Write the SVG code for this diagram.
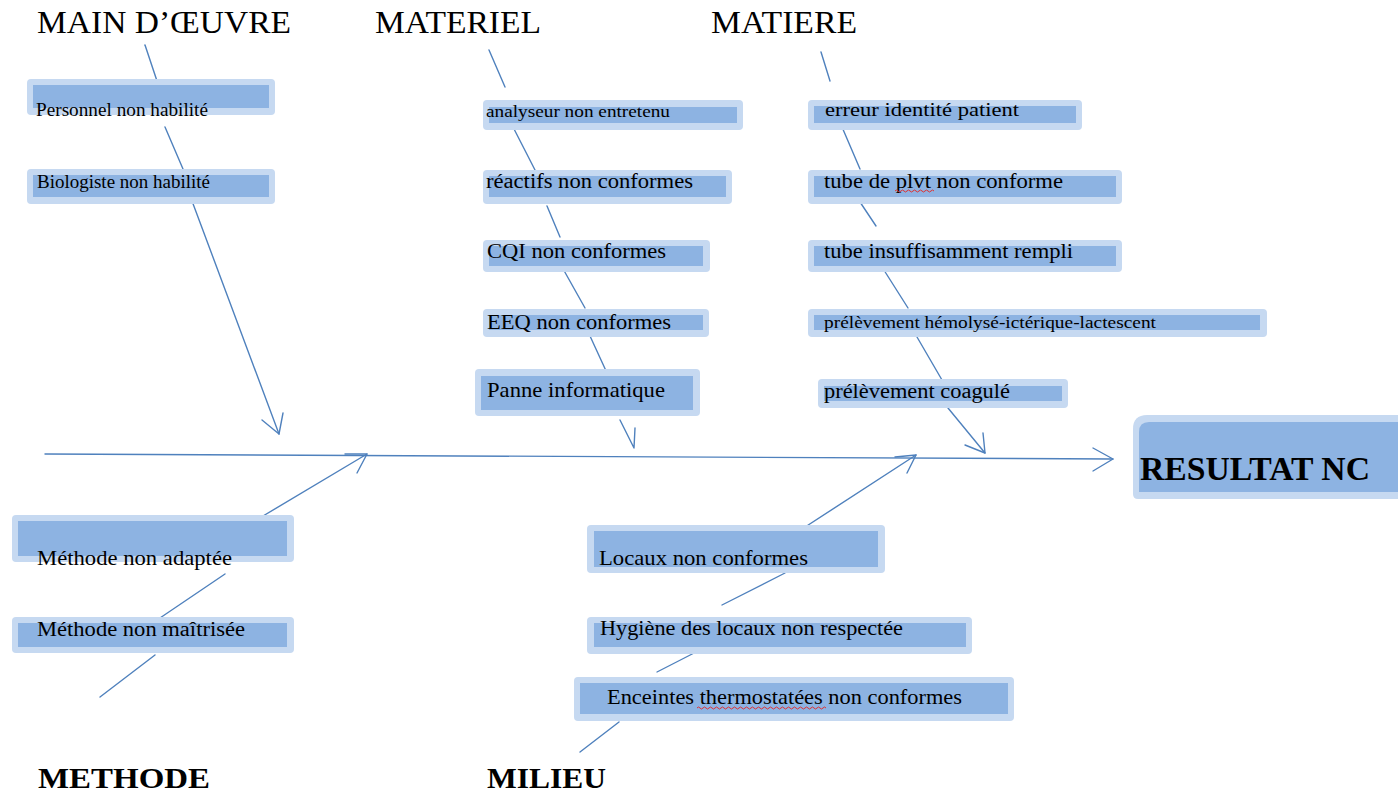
<svg xmlns="http://www.w3.org/2000/svg" width="1398" height="793" viewBox="0 0 1398 793">
<style>
.o{fill:#c6d9f1}
.i{fill:#8db3e2}
.t{font-family:"Liberation Serif","Times New Roman",serif;fill:#000}
.h{font-family:"Liberation Serif","Times New Roman",serif;font-size:31px;fill:#000}
.hb{font-family:"Liberation Serif","Times New Roman",serif;font-size:30px;font-weight:bold;fill:#000}
.ln{stroke:#4f81bd;stroke-width:1.4;fill:none;stroke-linecap:round;stroke-linejoin:round}
.sq{stroke:#e03030;stroke-width:1;fill:none}
</style>
<rect width="1398" height="793" fill="#ffffff"/>
<g id="connectors">
<path class="ln" d="M145,45 L157,81"/>
<path class="ln" d="M165,127 L183,169"/>
<path class="ln" d="M192,201 L279,434"/>
<polyline class="ln" points="262,420 279,434 283,413"/>
<path class="ln" d="M489,50 L505,87"/>
<path class="ln" d="M513,127 L535,170"/>
<path class="ln" d="M547,206 L560,237"/>
<path class="ln" d="M562,267 L585,308"/>
<path class="ln" d="M590,336 L607,373"/>
<polyline class="ln" points="620,420 634,448 635,428"/>
<path class="ln" d="M821,52 L830,81"/>
<path class="ln" d="M842,127 L860,169"/>
<path class="ln" d="M860,202 L876,226"/>
<path class="ln" d="M882,267 L908,308"/>
<path class="ln" d="M917,337 L942,380"/>
<path class="ln" d="M948,408 L985,453"/>
<polyline class="ln" points="965,445 985,453 983,433"/>
<path class="ln" d="M45,454 L1113,459"/>
<polyline class="ln" points="1093,448 1113,459 1093,471"/>
<path class="ln" d="M100,697 L155,655"/>
<path class="ln" d="M157,620 L225,574"/>
<path class="ln" d="M258,519 L367,454"/>
<polyline class="ln" points="345,454 367,454 357,473"/>
<path class="ln" d="M580,752 L619,722"/>
<path class="ln" d="M657,672 L698,651"/>
<path class="ln" d="M722,605 L785,573"/>
<path class="ln" d="M799,531 L916,455"/>
<polyline class="ln" points="895,457 916,455 907,473"/>
</g>
<g id="headers">
<text class="h" x="37" y="33" textLength="254" lengthAdjust="spacingAndGlyphs">MAIN D’ŒUVRE</text>
<text class="h" x="375" y="33" textLength="166" lengthAdjust="spacingAndGlyphs">MATERIEL</text>
<text class="h" x="711" y="33" textLength="146" lengthAdjust="spacingAndGlyphs">MATIERE</text>
<text class="hb" x="38" y="788" textLength="172" lengthAdjust="spacingAndGlyphs">METHODE</text>
<text class="hb" x="487" y="788" textLength="119" lengthAdjust="spacingAndGlyphs">MILIEU</text>
</g>
<g id="n-personnel"><rect class="o" x="27" y="79" width="248" height="36" rx="4"/><rect class="i" x="33" y="85" width="236" height="23"/><text class="t" x="36" y="116" font-size="18" textLength="172" lengthAdjust="spacingAndGlyphs">Personnel non habilité</text></g>
<g id="n-biologiste"><rect class="o" x="27" y="169" width="248" height="35" rx="4"/><rect class="i" x="33" y="175" width="236" height="22"/><text class="t" x="37" y="188" font-size="18" textLength="173" lengthAdjust="spacingAndGlyphs">Biologiste non habilité</text></g>
<g id="n-analyseur"><rect class="o" x="483" y="100" width="260" height="30" rx="4"/><rect class="i" x="489" y="107" width="248" height="16"/><text class="t" x="486" y="117" font-size="17" textLength="184" lengthAdjust="spacingAndGlyphs">analyseur non entretenu</text></g>
<g id="n-reactifs"><rect class="o" x="483" y="170" width="249" height="34" rx="4"/><rect class="i" x="489" y="176" width="237" height="21"/><text class="t" x="486" y="188" font-size="20" textLength="207" lengthAdjust="spacingAndGlyphs">réactifs non conformes</text></g>
<g id="n-cqi"><rect class="o" x="483" y="240" width="227" height="32" rx="4"/><rect class="i" x="489" y="246" width="214" height="20"/><text class="t" x="487" y="258" font-size="20" textLength="179" lengthAdjust="spacingAndGlyphs">CQI non conformes</text></g>
<g id="n-eeq"><rect class="o" x="483" y="309" width="226" height="28" rx="4"/><rect class="i" x="489" y="315" width="214" height="15"/><text class="t" x="487" y="329" font-size="20" textLength="184" lengthAdjust="spacingAndGlyphs">EEQ non conformes</text></g>
<g id="n-panne"><rect class="o" x="475" y="369" width="225" height="47" rx="4"/><rect class="i" x="481" y="376" width="212" height="34"/><text class="t" x="487" y="397" font-size="21" textLength="178" lengthAdjust="spacingAndGlyphs">Panne informatique</text></g>
<g id="n-erreur"><rect class="o" x="808" y="100" width="274" height="30" rx="4"/><rect class="i" x="814" y="106" width="262" height="17"/><text class="t" x="825" y="116" font-size="19" textLength="194" lengthAdjust="spacingAndGlyphs">erreur identité patient</text></g>
<g id="n-tube-plvt"><rect class="o" x="808" y="170" width="314" height="34" rx="4"/><rect class="i" x="814" y="176" width="302" height="21"/><text class="t" x="824" y="188" font-size="20" textLength="239" lengthAdjust="spacingAndGlyphs">tube de plvt non conforme</text><path class="sq" d="M895,191 q1.5,-2 3,0 t3,0 t3,0 t3,0 t3,0 t3,0 t3,0 t3,0 t3,0 t3,0 t3,0 t3,0 t3,0"/></g>
<g id="n-tube-insuff"><rect class="o" x="808" y="240" width="314" height="32" rx="4"/><rect class="i" x="814" y="246" width="302" height="20"/><text class="t" x="824" y="258" font-size="20" textLength="249" lengthAdjust="spacingAndGlyphs">tube insuffisamment rempli</text></g>
<g id="n-hemolyse"><rect class="o" x="808" y="309" width="459" height="28" rx="4"/><rect class="i" x="814" y="315" width="446" height="15"/><text class="t" x="824" y="328" font-size="17" textLength="332" lengthAdjust="spacingAndGlyphs">prélèvement hémolysé-ictérique-lactescent</text></g>
<g id="n-coagule"><rect class="o" x="818" y="379" width="250" height="29" rx="4"/><rect class="i" x="824" y="386" width="238" height="15"/><text class="t" x="824" y="398" font-size="20" textLength="186" lengthAdjust="spacingAndGlyphs">prélèvement coagulé</text></g>
<g id="n-resultat"><path class="o" d="M1147,415 H1398 V499 H1138 Q1133,499 1133,494 V429 Q1133,415 1147,415 Z"/><path class="i" d="M1149,422 H1398 V492 H1139 V432 Q1139,422 1149,422 Z"/><text class="t" x="1140" y="480" font-size="33" font-weight="bold" textLength="230" lengthAdjust="spacingAndGlyphs">RESULTAT NC</text></g>
<g id="n-methode-adaptee"><rect class="o" x="12" y="515" width="282" height="47" rx="4"/><rect class="i" x="18" y="521" width="269" height="35"/><text class="t" x="37" y="565" font-size="21" textLength="195" lengthAdjust="spacingAndGlyphs">Méthode non adaptée</text></g>
<g id="n-methode-maitrisee"><rect class="o" x="12" y="617" width="282" height="36" rx="4"/><rect class="i" x="18" y="623" width="269" height="24"/><text class="t" x="37" y="636" font-size="20" textLength="208" lengthAdjust="spacingAndGlyphs">Méthode non maîtrisée</text></g>
<g id="n-locaux"><rect class="o" x="587" y="525" width="298" height="48" rx="4"/><rect class="i" x="594" y="531" width="284" height="36"/><text class="t" x="599" y="565" font-size="21" textLength="209" lengthAdjust="spacingAndGlyphs">Locaux non conformes</text></g>
<g id="n-hygiene"><rect class="o" x="587" y="617" width="385" height="37" rx="4"/><rect class="i" x="594" y="623" width="372" height="24"/><text class="t" x="600" y="635" font-size="20" textLength="303" lengthAdjust="spacingAndGlyphs">Hygiène des locaux non respectée</text></g>
<g id="n-enceintes"><rect class="o" x="574" y="677" width="440" height="44" rx="4"/><rect class="i" x="580" y="683" width="428" height="31"/><text class="t" x="607" y="704" font-size="21" textLength="355" lengthAdjust="spacingAndGlyphs">Enceintes thermostatées non conformes</text><path class="sq" d="M697,708 q1.5,-2 3,0 t3,0 t3,0 t3,0 t3,0 t3,0 t3,0 t3,0 t3,0 t3,0 t3,0 t3,0 t3,0 t3,0 t3,0 t3,0 t3,0 t3,0 t3,0 t3,0 t3,0 t3,0 t3,0 t3,0 t3,0 t3,0 t3,0 t3,0 t3,0 t3,0 t3,0 t3,0 t3,0 t3,0 t3,0 t3,0 t3,0 t3,0 t3,0 t3,0 t3,0 t3,0 t3,0"/></g>
</svg>
